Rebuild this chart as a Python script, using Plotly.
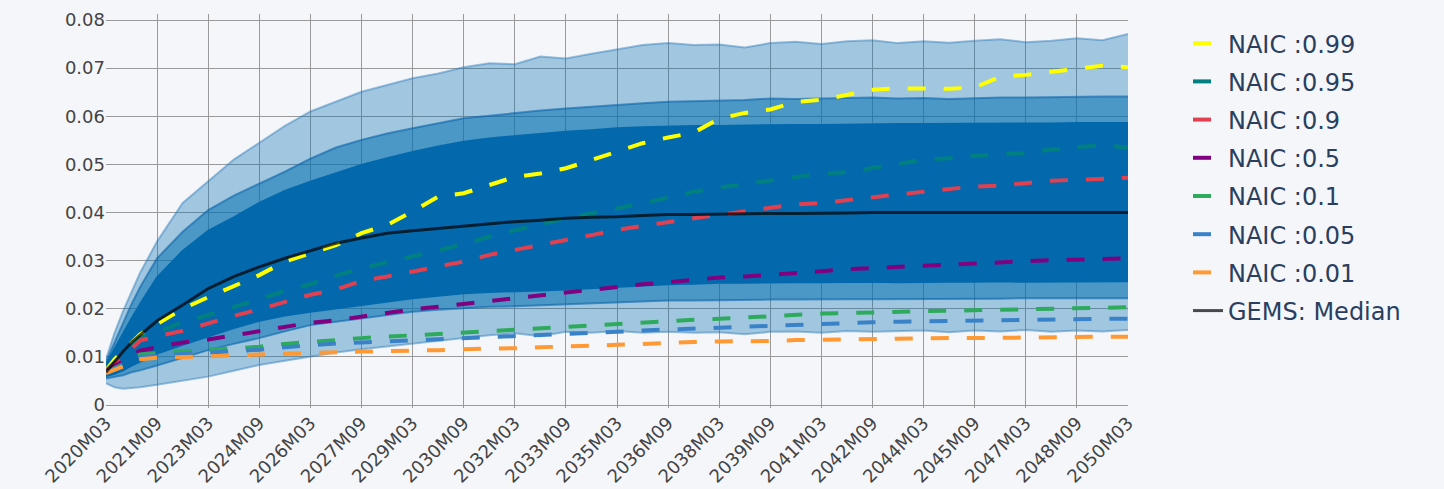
import plotly.graph_objects as go

# ---- data ----
sample_months = [
    "2020M03", "2020M06", "2020M09", "2020M12", "2021M03", "2021M09", "2022M06", "2023M03",
    "2023M12", "2024M09", "2025M06", "2026M03", "2026M12", "2027M09", "2028M06", "2029M03",
    "2029M12", "2030M09", "2031M06", "2032M03", "2032M12", "2033M09", "2034M06", "2035M03",
    "2035M12", "2036M09", "2037M06", "2038M03", "2038M12", "2039M09", "2040M06", "2041M03",
    "2041M12", "2042M09", "2043M06", "2044M03", "2044M12", "2045M09", "2046M06", "2047M03",
    "2047M12", "2048M09", "2049M06", "2050M03",
]

tick_labels = [
    "2020M03", "2021M09", "2023M03", "2024M09", "2026M03", "2027M09", "2029M03",
    "2030M09", "2032M03", "2033M09", "2035M03", "2036M09", "2038M03", "2039M09",
    "2041M03", "2042M09", "2044M03", "2045M09", "2047M03", "2048M09", "2050M03",
]

band_outer_hi = [0.0095, 0.015, 0.0195, 0.0235, 0.0275, 0.034, 0.042, 0.0465, 0.051, 0.0545,
                 0.058, 0.061, 0.063, 0.0651, 0.0665, 0.0679, 0.0689, 0.0702, 0.071, 0.0708,
                 0.0724, 0.072, 0.073, 0.0739, 0.0748, 0.0752, 0.0748, 0.0749, 0.0743, 0.0752,
                 0.0755, 0.075, 0.0756, 0.0758, 0.0752, 0.0756, 0.0753, 0.0757, 0.076, 0.0754,
                 0.0757, 0.0762, 0.0758, 0.0771]
band_mid_hi = [0.009, 0.013, 0.017, 0.021, 0.0245, 0.0305, 0.036, 0.0405, 0.0435, 0.046,
               0.0485, 0.0512, 0.0535, 0.0551, 0.0564, 0.0575, 0.0585, 0.0596, 0.0601, 0.0607,
               0.0612, 0.0616, 0.062, 0.0623, 0.0627, 0.063, 0.0631, 0.0632, 0.0634, 0.0637,
               0.0636, 0.0637, 0.0638, 0.0639, 0.0637, 0.0638, 0.0636, 0.0638, 0.0639, 0.0639,
               0.064, 0.064, 0.0641, 0.0641]
band_inner_hi = [0.0085, 0.0115, 0.0148, 0.018, 0.021, 0.0265, 0.032, 0.0362, 0.039, 0.042,
                 0.0445, 0.0464, 0.0481, 0.0499, 0.0513, 0.0526, 0.0537, 0.0547, 0.0554, 0.0559,
                 0.0563, 0.0568, 0.0571, 0.0575, 0.0577, 0.0579, 0.058, 0.058, 0.0581, 0.0581,
                 0.0582, 0.0582, 0.0583, 0.0583, 0.0584, 0.0584, 0.0584, 0.0585, 0.0585, 0.0585,
                 0.0585, 0.0586, 0.0586, 0.0586]
gems_median = [0.0068, 0.009, 0.0111, 0.013, 0.0145, 0.0175, 0.0208, 0.0242, 0.0267, 0.0287,
               0.0305, 0.0321, 0.0336, 0.0347, 0.0357, 0.0362, 0.0367, 0.0372, 0.0376, 0.0381,
               0.0384, 0.0388, 0.039, 0.0391, 0.0394, 0.0396, 0.0396, 0.0397, 0.0397, 0.0398,
               0.0398, 0.0398, 0.0399, 0.04, 0.04, 0.04, 0.0401, 0.0401, 0.0401, 0.04,
               0.04, 0.0401, 0.04, 0.04]
band_inner_lo = [0.006, 0.0065, 0.0072, 0.0082, 0.009, 0.0107, 0.0125, 0.0143, 0.016, 0.0175,
                 0.0186, 0.0194, 0.0201, 0.0208, 0.0215, 0.0222, 0.0227, 0.0232, 0.0235, 0.0236,
                 0.0238, 0.024, 0.0243, 0.0246, 0.0248, 0.0251, 0.0252, 0.0254, 0.0254, 0.0255,
                 0.0255, 0.0255, 0.0256, 0.0256, 0.0255, 0.0256, 0.0256, 0.0256, 0.0257, 0.0256,
                 0.0256, 0.0257, 0.0257, 0.0257]
band_mid_lo = [0.0055, 0.0058, 0.0062, 0.0068, 0.0072, 0.0082, 0.0098, 0.0114, 0.0127, 0.0139,
               0.0153, 0.0166, 0.0173, 0.018, 0.0187, 0.0194, 0.0198, 0.0201, 0.0204, 0.0205,
               0.0207, 0.021, 0.0212, 0.0213, 0.0215, 0.0217, 0.0217, 0.0218, 0.0218, 0.0219,
               0.0219, 0.022, 0.022, 0.022, 0.022, 0.0221, 0.0221, 0.0221, 0.0221, 0.0222,
               0.0222, 0.0222, 0.0222, 0.0222]
band_outer_lo = [0.0045, 0.0037, 0.0034, 0.0035, 0.0037, 0.0042, 0.005, 0.0059, 0.0071, 0.0083,
                 0.0092, 0.0101, 0.0109, 0.0116, 0.0122, 0.0128, 0.0134, 0.0139, 0.0145, 0.0149,
                 0.0143, 0.0152, 0.015, 0.0154, 0.015, 0.0152, 0.015, 0.0151, 0.0147, 0.0152,
                 0.0153, 0.015, 0.0154, 0.0152, 0.0153, 0.0155, 0.0151, 0.0155, 0.0153, 0.0156,
                 0.0152, 0.0155, 0.0153, 0.0156]

naic_099 = [0.0072, 0.0095, 0.0112, 0.013, 0.0147, 0.0168, 0.02, 0.0224, 0.0247, 0.027,
            0.0298, 0.0315, 0.0332, 0.0357, 0.0374, 0.0402, 0.0433, 0.044, 0.0457, 0.0474,
            0.0481, 0.0492, 0.0509, 0.0526, 0.0544, 0.0556, 0.0566, 0.0595, 0.0607, 0.0614,
            0.063, 0.0634, 0.0644, 0.0655, 0.0658, 0.0657, 0.0657, 0.066, 0.0682, 0.0686,
            0.0692, 0.0698, 0.0705, 0.0702]
naic_095 = [0.0071, 0.0088, 0.0105, 0.0122, 0.014, 0.0152, 0.0172, 0.0187, 0.0204, 0.0222,
            0.0237, 0.0251, 0.0269, 0.0284, 0.0296, 0.031, 0.0322, 0.0334, 0.035, 0.0364,
            0.0376, 0.0388, 0.0398, 0.041, 0.0419, 0.0431, 0.0443, 0.0452, 0.0459, 0.0467,
            0.0472, 0.0481, 0.0484, 0.0493, 0.0502, 0.051, 0.0513, 0.0517, 0.0522, 0.0523,
            0.0531, 0.0536, 0.054, 0.0535]
naic_090 = [0.007, 0.0085, 0.01, 0.0117, 0.0134, 0.0143, 0.0154, 0.017, 0.0185, 0.0199,
            0.0213, 0.0229, 0.024, 0.0258, 0.0267, 0.0278, 0.0289, 0.0298, 0.0312, 0.0323,
            0.0334, 0.0343, 0.0353, 0.0364, 0.0372, 0.0381, 0.0388, 0.0395, 0.0402, 0.0409,
            0.0417, 0.042, 0.0426, 0.0433, 0.0438, 0.0443, 0.0449, 0.0454, 0.0456, 0.0461,
            0.0466, 0.0468, 0.047, 0.0472]
naic_050 = [0.0069, 0.008, 0.0092, 0.0104, 0.0113, 0.012, 0.013, 0.0136, 0.0145, 0.0153,
            0.0163, 0.0171, 0.0176, 0.0184, 0.019, 0.0199, 0.0204, 0.0211, 0.0216, 0.0222,
            0.0228, 0.0233, 0.0239, 0.0245, 0.0251, 0.0255, 0.026, 0.0265, 0.0267, 0.027,
            0.0274, 0.0278, 0.0282, 0.0285, 0.0288, 0.029, 0.0292, 0.0294, 0.0297, 0.0299,
            0.0301, 0.0302, 0.0304, 0.0305]
naic_010 = [0.0068, 0.0076, 0.0085, 0.0097, 0.0105, 0.0108, 0.0111, 0.0114, 0.0118, 0.0121,
            0.0127, 0.0132, 0.0135, 0.0139, 0.0142, 0.0145, 0.0149, 0.0152, 0.0155, 0.0157,
            0.016, 0.0163, 0.0166, 0.0168, 0.0171, 0.0174, 0.0177, 0.0179, 0.0182, 0.0184,
            0.0187, 0.019, 0.0191, 0.0193, 0.0194, 0.0195, 0.0196, 0.0197, 0.0198, 0.0199,
            0.0201, 0.0202, 0.0202, 0.0203]
naic_005 = [0.0067, 0.0074, 0.0083, 0.0094, 0.01, 0.0103, 0.0106, 0.0108, 0.0112, 0.0115,
            0.012, 0.0125, 0.0128, 0.013, 0.0132, 0.0134, 0.0137, 0.0139, 0.0141, 0.0143,
            0.0146, 0.0148, 0.015, 0.0152, 0.0155, 0.0157, 0.016, 0.0162, 0.0164, 0.0166,
            0.0168, 0.017, 0.0171, 0.0172, 0.0173, 0.0174, 0.0175, 0.0175, 0.0176, 0.0177,
            0.0178, 0.0178, 0.0179, 0.0179]
naic_001 = [0.0066, 0.0072, 0.008, 0.009, 0.0095, 0.0098, 0.0099, 0.01, 0.0103, 0.0105,
            0.0107, 0.0109, 0.011, 0.0111, 0.0112, 0.0112, 0.0114, 0.0116, 0.0116, 0.0118,
            0.012, 0.0121, 0.0123, 0.0125, 0.0127, 0.013, 0.0131, 0.0132, 0.0132, 0.0133,
            0.0135, 0.0136, 0.0137, 0.0138, 0.0138, 0.0139, 0.0139, 0.0139, 0.014, 0.014,
            0.0141, 0.0141, 0.0142, 0.0142]

naic_names = ["NAIC :0.99", "NAIC :0.95", "NAIC :0.9", "NAIC :0.5",
              "NAIC :0.1", "NAIC :0.05", "NAIC :0.01"]
naic_series = [naic_099, naic_095, naic_090, naic_050, naic_010, naic_005, naic_001]
naic_colors = ["#ffff00", "#008080", "#e04050", "#800080", "#2eaa5c", "#3a82c8", "#ff9933"]

for s in [band_outer_hi, band_mid_hi, band_inner_hi, gems_median, band_inner_lo,
          band_mid_lo, band_outer_lo] + naic_series:
    assert len(s) == len(sample_months)


def month_index(label):
    year, mon = label.split("M")
    return (int(year) - 2020) * 12 + int(mon) - 3


x = [month_index(m) for m in sample_months]
tick_pos = [month_index(m) for m in tick_labels]

BG = "#f5f6fa"
fig = go.Figure()

bands = [
    (band_outer_lo, band_outer_hi, "rgba(5,112,176,0.35)", "rgba(40,120,185,0.45)"),
    (band_mid_lo, band_mid_hi, "rgba(5,112,176,0.55)", "rgba(10,100,170,0.6)"),
    (band_inner_lo, band_inner_hi, "rgb(3,105,172)", "rgb(3,105,172)"),
]
for lo, hi, fillc, linec in bands:
    fig.add_trace(go.Scatter(x=x, y=lo, mode="lines", line=dict(color=linec, width=2),
                             showlegend=False, hoverinfo="skip"))
    fig.add_trace(go.Scatter(x=x, y=hi, mode="lines", line=dict(color=linec, width=2),
                             fill="tonexty", fillcolor=fillc, showlegend=False,
                             hoverinfo="skip"))

for i, (name, ys, col) in enumerate(zip(naic_names, naic_series, naic_colors)):
    fig.add_trace(go.Scatter(x=x, y=ys, mode="lines", name=name, legendgroup=f"g{i}",
                             line=dict(color=col, width=4, dash="18px,18px")))

fig.add_trace(go.Scatter(x=x, y=gems_median, mode="lines", name="GEMS: Median",
                         legendgroup="gm",
                         line=dict(color="rgba(0,0,0,0.7)", width=3)))

fig.update_layout(
    width=1444, height=489,
    margin=dict(l=106, r=316, t=14, b=81),
    paper_bgcolor=BG, plot_bgcolor=BG,
    font=dict(family="DejaVu Sans, Verdana, sans-serif", size=18, color="#444"),
    legend=dict(font=dict(size=24, color="#2a3f5f"), x=1.0587, xanchor="left",
                y=0.982, yanchor="top", tracegroupgap=4, traceorder="grouped",
                bgcolor="rgba(0,0,0,0)"),
    xaxis=dict(range=[0, 360], tickmode="array", tickvals=tick_pos, ticktext=tick_labels,
               tickangle=-45, tickfont=dict(size=18), showgrid=True, gridcolor="#9a9a9a",
               gridwidth=1, zeroline=False, showline=False, ticks="", automargin=False),
    yaxis=dict(range=[-0.00062, 0.08125], dtick=0.01, tick0=0, showgrid=True,
               gridcolor="#9a9a9a", gridwidth=1, zeroline=False, showline=False,
               ticks="", automargin=False),
)

fig.write_html("out.html", config={"displayModeBar": False},
               post_script="document.body.style.margin='0';document.body.style.overflow='hidden';")
